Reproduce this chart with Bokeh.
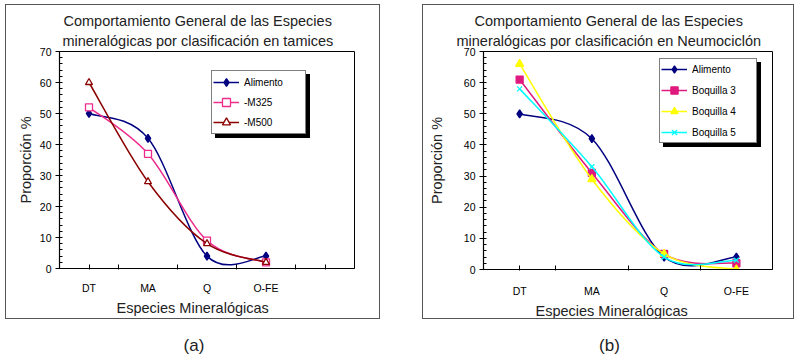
from bokeh.plotting import figure
from bokeh.models import (Legend, LegendItem, Title, FixedTicker,
                          SingleIntervalTicker, Range1d, Div, Spacer)
from bokeh.layouts import row, column
from bokeh.embed import file_html
from bokeh.resources import INLINE

categories = ["DT", "MA", "Q", "O-FE"]

# panel (a): tamices
a_alimento = [50, 42, 4, 4]
a_m325 = [52, 37, 9, 2]
a_m500 = [60, 28, 8, 2]

# panel (b): Neumociclón
b_alimento = [50, 42, 4, 4]
b_boq3 = [61, 31, 5, 2]
b_boq4 = [66, 29, 5, 0]
b_boq5 = [58, 33, 4, 3]

FONT = "Liberation Sans"


def smooth_segments(xs, ys):
    n = len(xs)
    d = dict(x0=[], y0=[], x1=[], y1=[], cx0=[], cy0=[], cx1=[], cy1=[])
    for i in range(n - 1):
        i0 = max(i - 1, 0)
        i3 = min(i + 2, n - 1)
        d["x0"].append(xs[i]); d["y0"].append(ys[i])
        d["x1"].append(xs[i + 1]); d["y1"].append(ys[i + 1])
        d["cx0"].append(xs[i] + (xs[i + 1] - xs[i0]) / 6.0)
        d["cy0"].append(ys[i] + (ys[i + 1] - ys[i0]) / 6.0)
        d["cx1"].append(xs[i + 1] - (xs[i3] - xs[i]) / 6.0)
        d["cy1"].append(ys[i + 1] - (ys[i3] - ys[i]) / 6.0)
    return d


def make_legend(items, loc, cfg, bg, border, text_color):
    pad, gw, stand, lw, lh, sp = cfg
    return Legend(items=items, location=loc, orientation="vertical",
                  border_line_color=border, border_line_width=1,
                  background_fill_color=bg, background_fill_alpha=1,
                  label_text_font=FONT, label_text_font_size="10px",
                  label_text_color=text_color, glyph_width=gw, glyph_height=lh,
                  label_height=lh, spacing=sp, padding=pad, margin=0,
                  label_standoff=stand, label_width=lw)


def make_panel(series, title_lines, ncat, width, height, borders, minor_x,
               legend_pos, legend_cfg, title_offsets, xtitle_offset, ylabel_standoff,
               xlabel_standoff, xtitle_standoff):
    bl, br, bt, bb = borders
    p = figure(width=width, height=height, output_backend="svg", toolbar_location=None,
               x_range=Range1d(0, ncat), y_range=Range1d(0, 70),
               min_border_left=bl, min_border_right=br, min_border_top=bt,
               min_border_bottom=bb, background_fill_color="white",
               border_fill_color="white",
               styles={"border": "1.5px solid #555555"})
    p.grid.visible = False
    p.outline_line_color = "black"
    p.outline_line_width = 1

    xs = [i + 0.5 for i in range(len(categories))]
    xa = p.xaxis[0]
    xa.ticker = FixedTicker(ticks=xs, minor_ticks=minor_x)
    xa.major_label_overrides = {x: c for x, c in zip(xs, categories)}
    xa.major_tick_in = 0
    xa.major_tick_out = 0
    xa.minor_tick_in = 4
    xa.minor_tick_out = 1
    xa.major_label_standoff = xlabel_standoff
    xa.major_label_text_font = FONT
    xa.major_label_text_font_size = "10.5px"
    xa.major_label_text_color = "black"
    xa.axis_line_color = "black"
    xa.axis_line_width = 1.2

    ya = p.yaxis[0]
    ya.ticker = SingleIntervalTicker(interval=10, num_minor_ticks=5)
    ya.major_tick_in = 0
    ya.major_tick_out = 4
    ya.minor_tick_in = 3
    ya.minor_tick_out = 0
    ya.major_label_standoff = 4
    ya.major_label_text_font = FONT
    ya.major_label_text_font_size = "10.5px"
    ya.major_label_text_color = "black"
    ya.axis_line_color = "black"
    ya.axis_line_width = 1.2
    ya.axis_label = "Proporción %"
    ya.axis_label_text_font = FONT
    ya.axis_label_text_font_size = "14.5px"
    ya.axis_label_text_font_style = "normal"
    ya.axis_label_text_color = "#222222"
    ya.axis_label_standoff = ylabel_standoff

    items = []
    shadow_items = []
    for name, vals, color, marker, fill, size in series:
        seg = smooth_segments(xs, vals)
        r_line = p.bezier(source=seg, x0="x0", y0="y0", x1="x1", y1="y1",
                          cx0="cx0", cy0="cy0", cx1="cx1", cy1="cy1",
                          line_color=color, line_width=1.5)
        r_pt = p.scatter(xs, vals, marker=marker, size=size, line_color=color,
                         fill_color=fill, line_width=1.3)
        items.append(LegendItem(label=name, renderers=[r_line, r_pt]))
        shadow_items.append(LegendItem(label=" ", renderers=[r_line, r_pt]))

    lx, ly = legend_pos
    # drop shadow: a same-sized black legend box offset right and down
    p.add_layout(make_legend(shadow_items, (lx + 4, ly - 4), legend_cfg,
                             "black", "black", "black"), "center")
    p.add_layout(make_legend(items, (lx, ly), legend_cfg,
                             "white", "black", "black"), "center")

    # title lines: the one added first sits closest to the frame
    p.add_layout(Title(text=title_lines[1], align="left", offset=title_offsets[1],
                       text_font=FONT, text_font_size="14.5px",
                       text_font_style="normal", text_color="#222222",
                       standoff=5), "above")
    p.add_layout(Title(text=title_lines[0], align="left", offset=title_offsets[0],
                       text_font=FONT, text_font_size="14.5px",
                       text_font_style="normal", text_color="#222222",
                       standoff=0), "above")
    p.add_layout(Title(text="Especies Mineralógicas", align="left",
                       offset=xtitle_offset, text_font=FONT,
                       text_font_size="14.5px", text_font_style="normal",
                       text_color="#222222", standoff=xtitle_standoff), "below")
    return p


series_a = [
    ("Alimento", a_alimento, "#000080", "diamond", "#000080", 8),
    ("-M325", a_m325, "#EE2C8C", "square", "white", 7),
    ("-M500", a_m500, "#8B0000", "triangle", "white", 7),
]
series_b = [
    ("Alimento", b_alimento, "#000080", "diamond", "#000080", 8),
    ("Boquilla 3", b_boq3, "#E0197F", "square", "#E0197F", 7),
    ("Boquilla 4", b_boq4, "#FFFF00", "triangle", "#FFFF00", 8),
    ("Boquilla 5", b_boq5, "#00FFFF", "x", "#00FFFF", 7),
]

pa = make_panel(series_a,
                ["Comportamiento General de las Especies",
                 "mineralógicas por clasificación en tamices"],
                5, 375, 315, (53, 27, 46, 52), [0.5, 1, 2, 3, 4, 4.5],
                (152, 134), (1, 26, 5, 60, 20, 0), (4, 3), 57, 3, 12, 3)
pb = make_panel(series_b,
                ["Comportamiento General de las Especies",
                 "mineralógicas por clasificación en Neumociclón"],
                4, 372, 315, (60, 23, 46, 49), [0.5, 1, 2, 3],
                (176, 126), (1, 26, 5, 63, 18, 3), (-9, -27), 52, 16, 14, 3)

cap_style = {"text-align": "center", "font-size": "17px", "font-family": "Liberation Sans",
             "color": "#222222", "line-height": "18px"}
cap_a = Div(text="<div style='padding-top:18px'>(a)</div>", width=378, height=37,
            margin=0, styles=cap_style)
cap_b = Div(text="<div style='padding-top:18px'>(b)</div>", width=375, height=37,
            margin=0, styles=cap_style)

layout = column(Spacer(height=4),
                row(Spacer(width=5), column(pa, cap_a, spacing=0), Spacer(width=39),
                    column(pb, cap_b, spacing=0), spacing=0),
                spacing=0)

open("out.html", "w").write(file_html(layout, INLINE))
